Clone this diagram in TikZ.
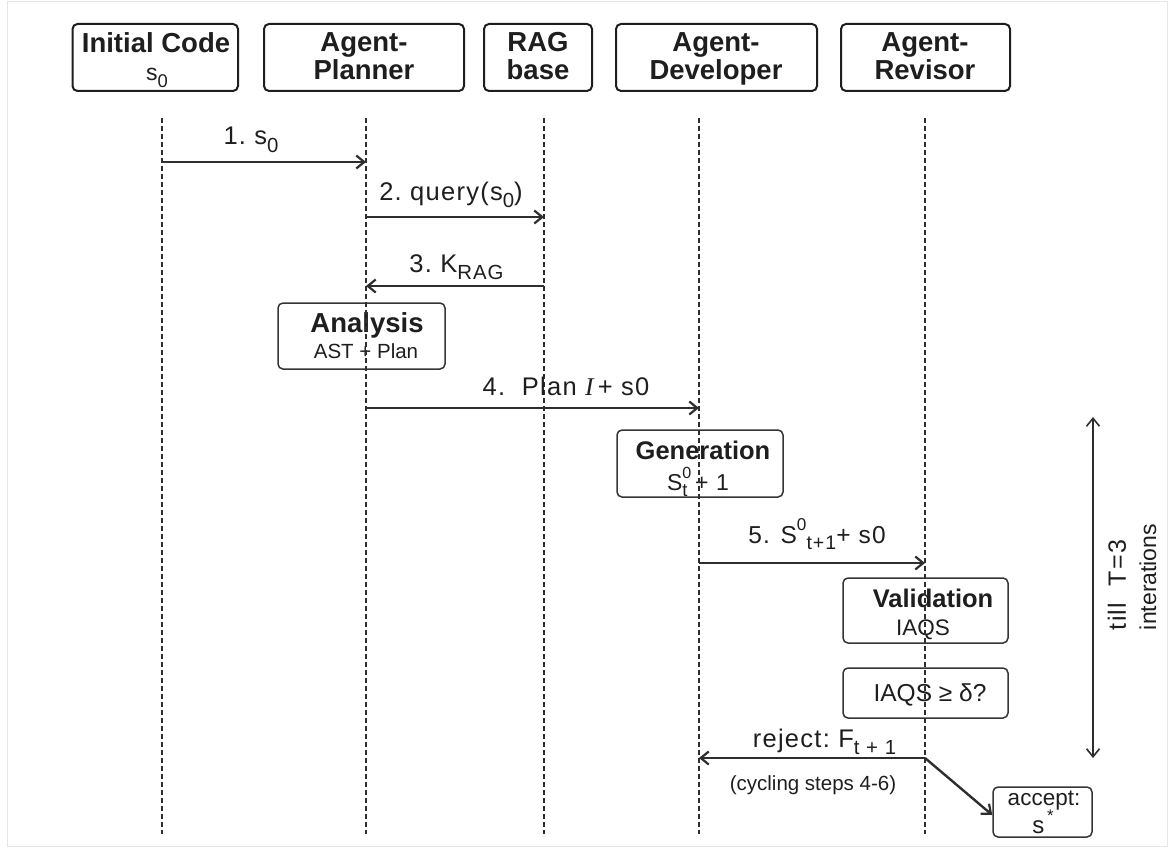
\documentclass[tikz,border=0pt]{standalone}
\usepackage{fontspec}
\setmainfont{Liberation Sans}
\newfontfamily\serifface{Liberation Serif}
\newfontfamily\spaced[LetterSpace=5]{Liberation Sans}
\usetikzlibrary{arrows.meta}

% lowered / raised small text for indices
\newcommand\lo[1]{\raisebox{-0.28em}{\scalebox{0.8}{#1}}}
\newcommand\hi[1]{\raisebox{0.5em}{\scalebox{0.7}{#1}}}
\newcommand\fs[1]{\fontsize{#1}{#1}\selectfont}

\definecolor{ink}{HTML}{1E1E1E}
\definecolor{wire}{HTML}{2E2E2E}
\definecolor{framegray}{HTML}{E6E6E6}

\begin{document}
\begin{tikzpicture}[x=1pt,y=-1pt,
  actor/.style={draw=ink, line width=2pt, rounded corners=5pt, inner sep=0pt},
  stepbox/.style={draw=ink!90, line width=1.5pt, rounded corners=5pt, inner sep=0pt},
  head/.style={anchor=base, font=\fs{27.5}\bfseries, text=ink},
  title/.style={anchor=base, font=\fs{25.5}\bfseries, text=ink},
  body/.style={anchor=base, font=\fs{22}, text=ink},
  msg/.style={anchor=base, font=\spaced\fs{25.5}, text=ink},
  life/.style={draw=wire, line width=1.4pt, dash pattern=on 5pt off 3pt},
  call/.style={draw=wire, line width=2.4pt, -{Straight Barb[length=8pt,width=13pt,line width=2.2pt]}},
  span/.style={draw=wire, line width=1.6pt, {Straight Barb[length=8pt,width=13pt]}-{Straight Barb[length=8pt,width=13pt]}}
]
\useasboundingbox (0,0) rectangle (1175,848);
\draw[framegray, line width=1pt] (7,1.5) rectangle (1167,846);

% ---- participants ----
\node[actor, minimum width=165.5pt, minimum height=67pt] (init) at (155.25,57.5) {};
\node[actor, minimum width=200pt, minimum height=67pt] (plan) at (364,57.5) {};
\node[actor, minimum width=108pt, minimum height=67pt] (rag) at (538,57.5) {};
\node[actor, minimum width=201pt, minimum height=67pt] (dev) at (716.5,57.5) {};
\node[actor, minimum width=169pt, minimum height=67pt] (rev) at (925.5,57.5) {};

\node[head] (init-t) at (156,52.5) {Initial Code};
\node[body, font=\fs{23}] (init-s) at (157,81) {s\lo{0}};
\node[head] (plan-t1) at (364,51.5) {Agent-};
\node[head] (plan-t2) at (364,80) {Planner};
\node[head] (rag-t1) at (538,51.5) {RAG};
\node[head] (rag-t2) at (538,80) {base};
\node[head] (dev-t1) at (716,51.5) {Agent-};
\node[head] (dev-t2) at (716,80) {Developer};
\node[head] (rev-t1) at (925,51.5) {Agent-};
\node[head] (rev-t2) at (925,80) {Revisor};

% ---- activity boxes ----
\node[stepbox, minimum width=167pt, minimum height=66pt] (analysis) at (361.5,336) {};
\node[title, font=\fs{27.5}\bfseries] (analysis-t) at (367,332) {Analysis};
\node[body, font=\fs{20.5}] (analysis-s) at (366,358) {AST + Plan};

\node[stepbox, minimum width=166pt, minimum height=67pt] (gen) at (700,463.5) {};
\node[title] (gen-t) at (703,459) {Generation};
\node[body, font=\fs{23}] (gen-s) at (698,490) {S\rlap{\hi{0}}\lo{t}\,\,+\,\,1};

\node[stepbox, minimum width=165pt, minimum height=65pt] (val) at (925.5,610.5) {};
\node[title] (val-t) at (933,607) {Validation};
\node[body, font=\fs{22.5}] (val-s) at (923,635) {IAQS};

\node[stepbox, minimum width=165pt, minimum height=50pt] (check) at (925.5,693) {};
\node[body, font=\fs{24.5}] (check-t) at (930,701) {IAQS ≥ δ?};

\node[stepbox, minimum width=99pt, minimum height=50pt] (accept) at (1042.5,812) {};
\node[body, font=\fs{22.5}] (accept-t) at (1044,805) {accept:};
\node[body, font=\fs{24}] (accept-s) at (1043,833) {s\hi{\,*}};

% ---- lifelines ----
\coordinate (init-a) at (162,118);  \coordinate (init-b) at (162,834);
\coordinate (plan-a) at (366,118);  \coordinate (plan-b) at (366,834);
\coordinate (rag-a) at (544,118);   \coordinate (rag-b) at (544,834);
\coordinate (dev-a) at (699,118);   \coordinate (dev-b) at (699,834);
\coordinate (rev-a) at (925,118);   \coordinate (rev-b) at (925,834);
\foreach \p in {init,plan,rag,dev,rev} \draw[life] (\p-a) -- (\p-b);

% ---- messages ----
\coordinate (m1a) at (162,162); \coordinate (m1b) at (366,162);
\coordinate (m2a) at (366,217); \coordinate (m2b) at (544,217);
\coordinate (m3a) at (544,286); \coordinate (m3b) at (366,286);
\coordinate (m4a) at (366,408); \coordinate (m4b) at (699,408);
\coordinate (m5a) at (699,563); \coordinate (m5b) at (925,563);
\coordinate (m6a) at (925,758); \coordinate (m6b) at (699,758);

\draw[call] (m1a) -- (m1b);
\draw[call] (m2a) -- (m2b);
\draw[call] (m3a) -- (m3b);
\draw[call] (m4a) -- (m4b);
\draw[call] (m5a) -- (m5b);
\draw[call] (m6a) -- (m6b);
\draw[call] (m6a) -- (accept.west |- 0,815);

\node[msg] (l1) at (251,145) {1.\ s\lo{0}};
\node[msg] (l2) at (451,200) {2.\ query(s\lo{0})};
\node[msg] (l3) at (456.5,272) {3.\ K\lo{RAG}};
\node[msg] (l4) at (566,395) {4.\ \ Plan {\serifface\itshape I\,}+ s0};
\node[msg, font=\spaced\fs{24.5}] (l5) at (817,543) {5. S\hi{0}\lo{t+1}+ s0};
\node[msg] (l6) at (824.5,747) {reject:\ F\lo{t + 1}};
\node[body, font=\fs{20.5}] (l6b) at (813,790) {(cycling steps 4-6)};

% ---- iteration span ----
\coordinate (it-a) at (1093,417); \coordinate (it-b) at (1093,758);
\draw[span] (it-a) -- (it-b);
\node[font=\spaced\fs{25}, text=ink, rotate=90] (it-t1) at (1117,585) {till\ \ T=3};
\node[font=\fs{23}, text=ink, rotate=90] (it-t2) at (1148,577) {interations};
\end{tikzpicture}
\end{document}
